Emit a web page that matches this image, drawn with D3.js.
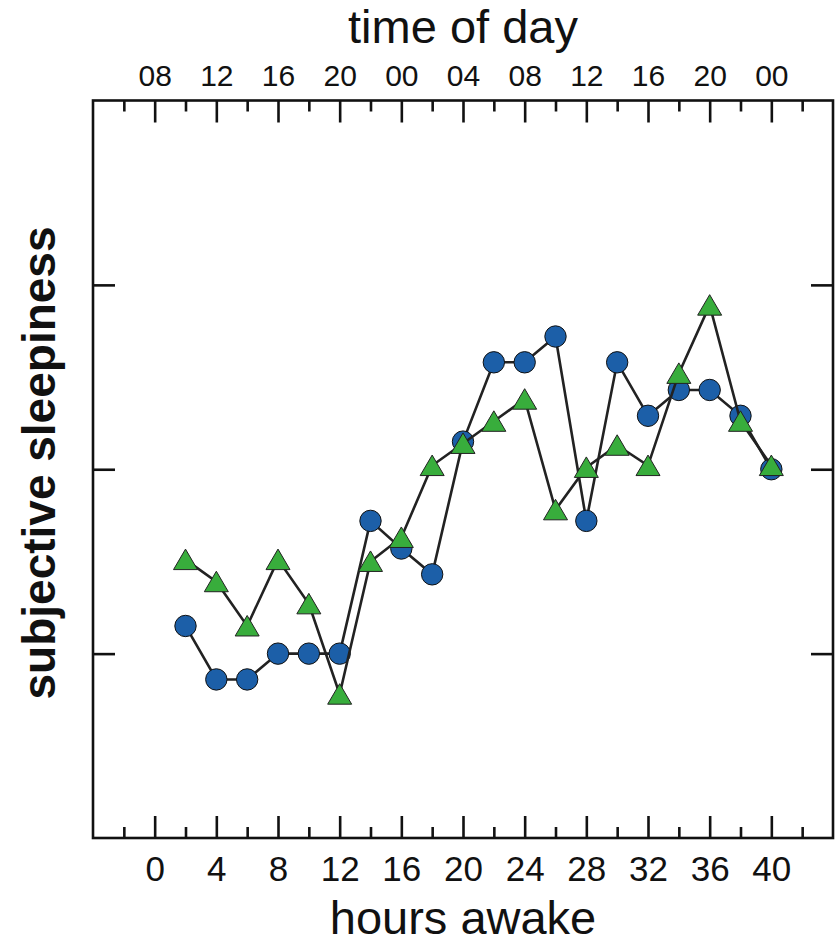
<!DOCTYPE html>
<html>
<head>
<meta charset="utf-8">
<script src="https://cdn.jsdelivr.net/npm/d3@7"></script>
<style>
  html, body { margin: 0; padding: 0; background: #fff; }
  svg { display: block; }
</style>
</head>
<body>
<svg id="chart" width="837" height="943"></svg>
<script>
// Hours awake at which sleepiness was rated
const hoursAwake = [2, 4, 6, 8, 10, 12, 14, 16, 18, 20, 22, 24, 26, 28, 30, 32, 34, 36, 38, 40];
// Subjective sleepiness, first group (blue circles)
const circleSeries = [1.15, 0.86, 0.86, 1.0, 1.0, 1.0, 1.72, 1.57, 1.43, 2.15, 2.58, 2.58, 2.72, 1.72, 2.58, 2.29, 2.43, 2.43, 2.29, 2.0];
// Subjective sleepiness, second group (green triangles)
const triangleSeries = [1.51, 1.39, 1.15, 1.51, 1.27, 0.78, 1.5, 1.63, 2.02, 2.14, 2.26, 2.38, 1.78, 2.01, 2.13, 2.02, 2.52, 2.89, 2.26, 2.02];
// Labelled hour ticks and the clock time each one corresponds to
const hourTicks = [0, 4, 8, 12, 16, 20, 24, 28, 32, 36, 40];
const minorHourTicks = [-2, 2, 6, 10, 14, 18, 22, 26, 30, 34, 38, 42];
const clockLabels = ["08", "12", "16", "20", "00", "04", "08", "12", "16", "20", "00"];
const sleepinessTicks = [1, 2, 3];

const W = 837, H = 943;
const margin = { top: 100.5, right: 4, bottom: 105, left: 93 };
const svg = d3.select("#chart");
const font = "Liberation Sans, Arial, Helvetica, sans-serif";
const ink = "#111";

const x = d3.scaleLinear().domain([-4, 44]).range([margin.left, W - margin.right]);
const y = d3.scaleLinear().domain([0, 4]).range([H - margin.bottom, margin.top]);

const major = 22, minor = 11, axisW = 2.6;

function styleAxis(g, size) {
  g.select(".domain").remove();
  g.selectAll(".tick line").attr("stroke", ink).attr("stroke-width", axisW);
  g.selectAll("text").attr("font-family", font).attr("font-size", size).attr("fill", ink);
}

// Bottom axis: hours awake
const gBottom = svg.append("g").attr("transform", `translate(0,${y.range()[0]})`)
  .call(d3.axisBottom(x).tickValues(hourTicks).tickFormat(d3.format("d")).tickSize(-major).tickPadding(18));
styleAxis(gBottom, 35);
svg.append("g").attr("transform", `translate(0,${y.range()[0]})`)
  .call(d3.axisBottom(x).tickValues(minorHourTicks).tickFormat("").tickSize(-minor))
  .call(g => styleAxis(g, 0));

// Top axis: time of day
const gTop = svg.append("g").attr("transform", `translate(0,${y.range()[1]})`)
  .call(d3.axisTop(x).tickValues(hourTicks).tickFormat((d, i) => clockLabels[i]).tickSize(-major).tickPadding(15));
styleAxis(gTop, 30);
svg.append("g").attr("transform", `translate(0,${y.range()[1]})`)
  .call(d3.axisTop(x).tickValues(minorHourTicks).tickFormat("").tickSize(-minor))
  .call(g => styleAxis(g, 0));

// Left and right axes: unlabelled sleepiness ticks
svg.append("g").attr("transform", `translate(${x.range()[0]},0)`)
  .call(d3.axisLeft(y).tickValues(sleepinessTicks).tickFormat("").tickSize(-major))
  .call(g => styleAxis(g, 0));
svg.append("g").attr("transform", `translate(${x.range()[1]},0)`)
  .call(d3.axisRight(y).tickValues(sleepinessTicks).tickFormat("").tickSize(-major))
  .call(g => styleAxis(g, 0));

// Plot frame
svg.append("rect")
  .attr("x", x.range()[0]).attr("y", y.range()[1])
  .attr("width", x.range()[1] - x.range()[0])
  .attr("height", y.range()[0] - y.range()[1])
  .attr("fill", "none").attr("stroke", ink).attr("stroke-width", axisW);

// Axis titles
const plotMidX = (x.range()[0] + x.range()[1]) / 2;
svg.append("text").attr("x", plotMidX).attr("y", 43)
  .attr("text-anchor", "middle").attr("font-family", font).attr("font-size", 47)
  .attr("fill", ink).text("time of day");
svg.append("text").attr("x", plotMidX).attr("y", 934)
  .attr("text-anchor", "middle").attr("font-family", font).attr("font-size", 47)
  .attr("fill", ink).text("hours awake");
svg.append("text").attr("transform", `translate(55,463) rotate(-90)`)
  .attr("text-anchor", "middle").attr("font-family", font).attr("font-size", 46)
  .attr("font-weight", "bold").attr("fill", ink).text("subjective sleepiness");

const line = d3.line().x(d => x(d[0])).y(d => y(d[1]));
const circlePts = hoursAwake.map((h, i) => [h, circleSeries[i]]);
const trianglePts = hoursAwake.map((h, i) => [h, triangleSeries[i]]);

const lineColor = "#222";
const blue = "#1c5fa8", green = "#38ad3c";

// Blue circle series
svg.append("path").datum(circlePts).attr("d", line)
  .attr("fill", "none").attr("stroke", lineColor).attr("stroke-width", 2.6);
svg.append("g").selectAll("circle").data(circlePts).join("circle")
  .attr("cx", d => x(d[0])).attr("cy", d => y(d[1])).attr("r", 10.7)
  .attr("fill", blue).attr("stroke", "#111").attr("stroke-width", 1);

// Green triangle series
svg.append("path").datum(trianglePts).attr("d", line)
  .attr("fill", "none").attr("stroke", lineColor).attr("stroke-width", 2.6);
svg.append("g").selectAll("path").data(trianglePts).join("path")
  .attr("transform", d => `translate(${x(d[0])},${y(d[1])})`)
  .attr("d", "M0,-10.5L12,10L-12,10Z")
  .attr("fill", green).attr("stroke", "#222").attr("stroke-width", 1);
</script>
</body>
</html>
